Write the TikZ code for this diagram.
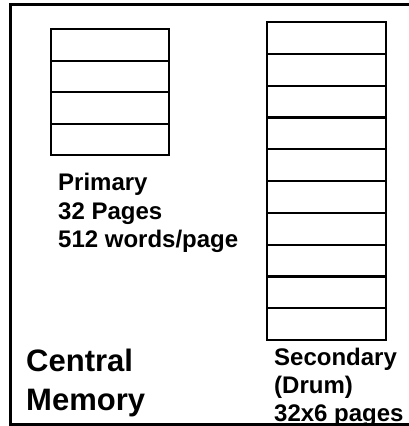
\documentclass[tikz,border=0pt]{standalone}
\usepackage{fontspec}
\setmainfont{Liberation Sans}
\begin{document}
\begin{tikzpicture}[x=1pt,y=-1pt,
  frame/.style={line width=2.6pt},
  cell/.style={draw,line width=2.1pt,minimum width=118pt,minimum height=32pt,inner sep=0pt,anchor=north west},
  smalltext/.style={font=\bfseries\fontsize{24}{28.5}\selectfont,align=left,inner sep=0pt,anchor=base west},
  bigtext/.style={font=\bfseries\fontsize{31}{40}\selectfont,align=left,inner sep=0pt,anchor=base west}]
\useasboundingbox (0,0) rectangle (409,426);
\begin{scope}
\clip (0,0) rectangle (409,426);
\coordinate (ftr) at (420,4.5);
\coordinate (ftl) at (10.5,4.5);
\coordinate (fbl) at (10.5,424.5);
\coordinate (fbr) at (420,424.5);
\draw[frame] (ftr) -- (ftl) -- (fbl) -- (fbr);
\end{scope}
% primary
\foreach \i in {0,...,3} {
  \node[cell,minimum height=31.5pt] (p\i) at (50,{28+31.5*\i}) {};
}
% secondary
\foreach \i in {0,...,9} {
  \node[cell,minimum width=119pt,minimum height=31.8pt] (s\i) at (266,{21+31.8*\i}) {};
}
\node[smalltext] (prim) at (58,190) {Primary};
\node[smalltext] (pages) at (58,219) {32 Pages};
\node[smalltext] (words) at (58,247.5) {512 words/page};
\node[bigtext] (central) at (26,371) {Central};
\node[bigtext] (memory) at (26,410) {Memory};
\node[smalltext] (sec) at (274,365) {Secondary};
\node[smalltext] (drum) at (274,393) {(Drum)};
\node[smalltext] (drumpages) at (274,421) {32x6 pages};
\end{tikzpicture}
\end{document}
